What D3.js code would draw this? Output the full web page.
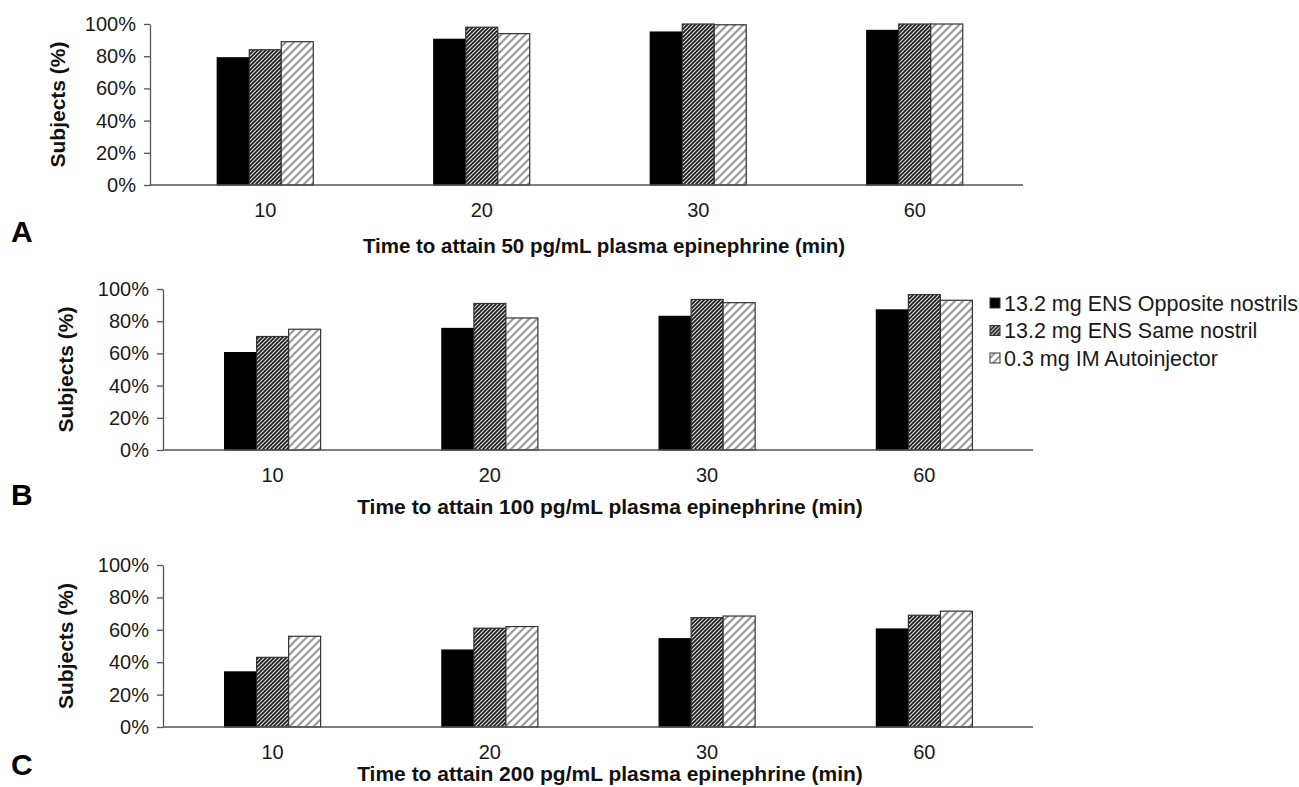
<!DOCTYPE html>
<html>
<head>
<meta charset="utf-8">
<script src="https://cdn.jsdelivr.net/npm/d3@7"></script>
<style>
  body { margin: 0; background: #fff; }
  svg { font-family: "Liberation Sans", Arial, sans-serif; }
  .axis text { font-size: 20px; fill: #1a1a1a; }
  .axis path, .axis line { stroke: #555; stroke-width: 1.3; }
</style>
</head>
<body>
<svg id="chart" width="1299" height="787"></svg>
<script>
// data (percent of subjects)
var CATEGORIES = ["10", "20", "30", "60"];
var SERIES = ["13.2 mg ENS Opposite nostrils", "13.2 mg ENS Same nostril", "0.3 mg IM Autoinjector"];
var Y_TICKS = [0, 20, 40, 60, 80, 100];

var A_OPPOSITE = [79, 90.5, 95, 96];
var A_SAME = [84, 98, 100, 100];
var A_AUTO = [89, 94, 99.5, 100];

var B_OPPOSITE = [60.5, 75.5, 83, 87];
var B_SAME = [70.5, 91, 93.5, 96.5];
var B_AUTO = [75, 82, 91.5, 93];

var C_OPPOSITE = [34, 47.5, 54.5, 60.5];
var C_SAME = [43, 61, 67.5, 69];
var C_AUTO = [56, 62, 68.5, 71.5];

var TITLES = [
    "Time to attain 50 pg/mL plasma epinephrine (min)",
    "Time to attain 100 pg/mL plasma epinephrine (min)",
    "Time to attain 200 pg/mL plasma epinephrine (min)"
];
var LETTERS = ["A", "B", "C"];

// panel geometry
var PANELS = [
    {series: [A_OPPOSITE, A_SAME, A_AUTO], left: 150, bandLeft: 157, right: 1023, top: 24, bottom: 185,
     tickY: 217, titleY: 253, titleX: 604, titleSize: 20.5, letterY: 242, ylabX: 58},
    {series: [B_OPPOSITE, B_SAME, B_AUTO], left: 163, bandLeft: 164, right: 1033, top: 289, bottom: 450,
     tickY: 482, titleY: 514, titleX: 610, titleSize: 21, letterY: 505, ylabX: 66},
    {series: [C_OPPOSITE, C_SAME, C_AUTO], left: 163, bandLeft: 164, right: 1033, top: 565, bottom: 727,
     tickY: 759, titleY: 781, titleX: 610, titleSize: 21, letterY: 775, ylabX: 66}
];
var GROUP_WIDTH = 96;
var FILLS = ["#000", "url(#hatchDense)", "url(#hatchLight)"];

var svg = d3.select("#chart");

// hatch patterns
var defs = svg.append("defs");
var dense = defs.append("pattern")
    .attr("id", "hatchDense")
    .attr("patternUnits", "userSpaceOnUse")
    .attr("width", 4).attr("height", 4);
dense.append("rect").attr("width", 4).attr("height", 4).attr("fill", "#ddd");
dense.append("path")
    .attr("d", "M-1,1 l2,-2 M0,4 l4,-4 M3,5 l2,-2")
    .attr("stroke", "#1a1a1a").attr("stroke-width", 1.6);

var light = defs.append("pattern")
    .attr("id", "hatchLight")
    .attr("patternUnits", "userSpaceOnUse")
    .attr("width", 8).attr("height", 8);
light.append("rect").attr("width", 8).attr("height", 8).attr("fill", "#fff");
light.append("path")
    .attr("d", "M-2,2 l4,-4 M0,8 l8,-8 M6,10 l4,-4")
    .attr("stroke", "#9a9a9a").attr("stroke-width", 2.2);

function drawPanel(p, idx) {
    var g = svg.append("g");

    var xScale = d3.scaleBand()
        .domain(CATEGORIES)
        .range([p.bandLeft, p.right]);

    var xInner = d3.scaleBand()
        .domain(d3.range(SERIES.length))
        .range([0, GROUP_WIDTH]);

    var yScale = d3.scaleLinear()
        .domain([0, 100])
        .range([p.bottom, p.top]);

    // bars
    p.series.forEach(function (vals, s) {
        g.append("g").selectAll("rect")
            .data(vals)
            .join("rect")
            .attr("x", function (d, i) {
                return xScale(CATEGORIES[i]) + xScale.bandwidth() / 2 - GROUP_WIDTH / 2 + xInner(s);
            })
            .attr("y", function (d) { return yScale(d); })
            .attr("width", xInner.bandwidth())
            .attr("height", function (d) { return yScale(0) - yScale(d); })
            .attr("fill", FILLS[s])
            .attr("stroke", s === 0 ? "#000" : "#333")
            .attr("stroke-width", 1.2);
    });

    // y axis
    var yAxis = d3.axisLeft(yScale)
        .tickValues(Y_TICKS)
        .tickFormat(function (d) { return d + "%"; })
        .tickSizeInner(6)
        .tickSizeOuter(0)
        .tickPadding(8);
    g.append("g")
        .attr("class", "axis")
        .attr("transform", "translate(" + p.left + ",0)")
        .call(yAxis);

    // x baseline
    g.append("line")
        .attr("x1", p.left).attr("x2", p.right)
        .attr("y1", yScale(0)).attr("y2", yScale(0))
        .attr("stroke", "#555").attr("stroke-width", 1.3);

    // x category labels
    g.selectAll(".xlab")
        .data(CATEGORIES)
        .join("text")
        .attr("class", "xlab")
        .attr("x", function (d) { return xScale(d) + xScale.bandwidth() / 2; })
        .attr("y", p.tickY)
        .attr("text-anchor", "middle")
        .attr("font-size", 20)
        .attr("fill", "#1a1a1a")
        .text(function (d) { return d; });

    // axis titles
    g.append("text")
        .attr("x", p.titleX)
        .attr("y", p.titleY)
        .attr("text-anchor", "middle")
        .attr("font-size", p.titleSize)
        .attr("font-weight", "bold")
        .attr("fill", "#111")
        .text(TITLES[idx]);

    g.append("text")
        .attr("transform", "translate(" + p.ylabX + "," + (p.top + p.bottom) / 2 + ") rotate(-90)")
        .attr("text-anchor", "middle")
        .attr("dy", "0.35em")
        .attr("font-size", 21)
        .attr("font-weight", "bold")
        .attr("fill", "#111")
        .text("Subjects (%)");

    // panel letter
    g.append("text")
        .attr("x", 11)
        .attr("y", p.letterY)
        .attr("font-size", 30)
        .attr("font-weight", "bold")
        .attr("fill", "#000")
        .text(LETTERS[idx]);
}

PANELS.forEach(drawPanel);

// legend
var legend = svg.append("g").attr("transform", "translate(990,303)");
var rows = legend.selectAll("g")
    .data(SERIES)
    .join("g")
    .attr("transform", function (d, i) { return "translate(0," + (i * 27.5) + ")"; });
rows.append("rect")
    .attr("x", 0).attr("y", -5)
    .attr("width", 10).attr("height", 10)
    .attr("fill", function (d, i) { return FILLS[i]; })
    .attr("stroke", "#333").attr("stroke-width", 1);
rows.append("text")
    .attr("x", 14)
    .attr("dy", "0.35em")
    .attr("font-size", 21.5)
    .attr("fill", "#1a1a1a")
    .text(function (d) { return d; });
</script>
</body>
</html>
